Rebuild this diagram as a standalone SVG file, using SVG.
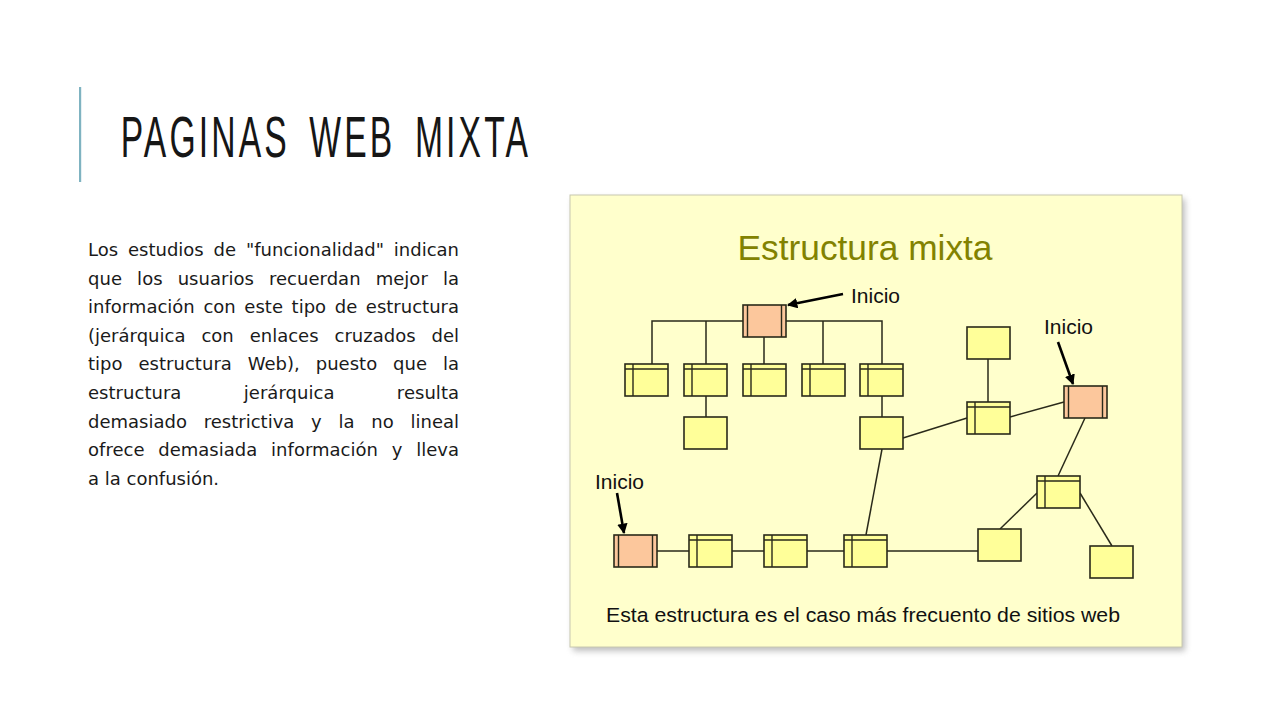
<svg xmlns="http://www.w3.org/2000/svg" width="1280" height="720" viewBox="0 0 1280 720">
<style>
.title{font-family:"Liberation Sans",Arial,sans-serif;font-size:58px;fill:#161616;word-spacing:12px}
.body{font-family:"DejaVu Sans","Noto Sans",sans-serif;font-size:18px;fill:#1a1a1a}
.dtitle{font-family:"Liberation Sans",Arial,sans-serif;font-size:35px;fill:#828200}
.lbl{font-family:"Liberation Sans",Arial,sans-serif;font-size:21px;fill:#111}
.foot{font-family:"Liberation Sans",Arial,sans-serif;font-size:20.5px;fill:#111}
.n{fill:#ffff99;stroke:#2a2a1a;stroke-width:1.6}
.o{fill:#fcc79c;stroke:#2a2a1a;stroke-width:1.6}
.d{stroke:#2a2a1a;stroke-width:1.4;fill:none}
.c{stroke:#2a2a1a;stroke-width:1.5;fill:none}
.a{stroke:#000;stroke-width:2.6;fill:none}
</style>
<defs>
<marker id="ah" viewBox="0 0 10 10" refX="9" refY="5" markerWidth="4" markerHeight="4" orient="auto" markerUnits="strokeWidth">
<path d="M0,0 L10,5 L0,10 z" fill="#000"/>
</marker>
<filter id="sh" x="-5%" y="-5%" width="112%" height="115%">
<feGaussianBlur stdDeviation="3"/>
</filter>
<symbol id="pg" overflow="visible">
<rect class="n" x="0" y="0" width="43" height="32"/>
<path class="d" d="M0,5 H43 M8,0 V32"/>
</symbol>
<symbol id="pl" overflow="visible">
<rect class="n" x="0" y="0" width="43" height="32"/>
</symbol>
<symbol id="po" overflow="visible">
<rect class="o" x="0" y="0" width="43" height="32"/>
<path class="d" d="M4.5,0 V32 M38.5,0 V32"/>
</symbol>
</defs>
<rect width="1280" height="720" fill="#ffffff"/>

<g id="header">
<rect x="79" y="87" width="2.2" height="95" fill="#7fb3c1"/>
<text class="title" transform="translate(120.7,156.7) scale(0.58,1)" x="0" y="0" textLength="702" lengthAdjust="spacing">PAGINAS WEB MIXTA</text>
</g>

<g id="paragraph" class="body">
<text x="88" y="256" word-spacing="4.1" textLength="371" lengthAdjust="spacing">Los estudios de "funcionalidad" indican</text>
<text x="88" y="284.6" word-spacing="9.4" textLength="371" lengthAdjust="spacing">que los usuarios recuerdan mejor la</text>
<text x="88" y="313.2" word-spacing="2.9" textLength="371" lengthAdjust="spacing">información con este tipo de estructura</text>
<text x="88" y="341.8" word-spacing="10.2" textLength="371" lengthAdjust="spacing">(jerárquica con enlaces cruzados del</text>
<text x="88" y="370.4" word-spacing="10.1" textLength="371" lengthAdjust="spacing">tipo estructura Web), puesto que la</text>
<text x="88" y="399" word-spacing="56.7" textLength="371" lengthAdjust="spacing">estructura jerárquica resulta</text>
<text x="88" y="427.6" word-spacing="11" textLength="371" lengthAdjust="spacing">demasiado restrictiva y la no lineal</text>
<text x="88" y="456.2" word-spacing="8" textLength="371" lengthAdjust="spacing">ofrece demasiada información y lleva</text>
<text x="88" y="484.8">a la confusión.</text>
</g>

<g id="panel">
<rect x="573" y="199" width="612" height="452" fill="#888" opacity="0.55" filter="url(#sh)"/>
<rect x="570" y="195" width="612" height="452" fill="#ffffcc" stroke="#c8c8b0" stroke-width="1"/>
<text class="dtitle" x="737.5" y="260" textLength="255" lengthAdjust="spacingAndGlyphs">Estructura mixta</text>
<text class="foot" x="606" y="622.3" textLength="514" lengthAdjust="spacingAndGlyphs">Esta estructura es el caso más frecuento de sitios web</text>
</g>

<g id="connectors">
<path class="c" d="M652,364 V321 H743 M786,321 H882 V364 M706,321 V364 M823,321 V364 M764,337 V364"/>
<path class="c" d="M706,396 V417 M882,396 V417"/>
<path class="c" d="M988,359 V402"/>
<path class="c" d="M903,438 L967,418"/>
<path class="c" d="M1010,417 L1064,402"/>
<path class="c" d="M1085,418 L1058,476"/>
<path class="c" d="M1000,529 L1037,493"/>
<path class="c" d="M1080,493 L1112,546"/>
<path class="c" d="M882,449 L866,535"/>
<path class="c" d="M657,551 H689 M732,551 H764 M807,551 H844 M887,551 H978"/>
<path class="a" d="M843,294 L788,305" marker-end="url(#ah)"/>
<path class="a" d="M1058,342 L1073,384" marker-end="url(#ah)"/>
<path class="a" d="M617,493 L624,533" marker-end="url(#ah)"/>
</g>

<g id="labels">
<text class="lbl" x="851" y="302.5">Inicio</text>
<text class="lbl" x="1044" y="334">Inicio</text>
<text class="lbl" x="595" y="489">Inicio</text>
</g>

<g id="node-root"><use href="#po" x="743" y="305"/></g>
<g id="node-c1"><use href="#pg" x="625" y="364"/></g>
<g id="node-c2"><use href="#pg" x="684" y="364"/></g>
<g id="node-c3"><use href="#pg" x="743" y="364"/></g>
<g id="node-c4"><use href="#pg" x="802" y="364"/></g>
<g id="node-c5"><use href="#pg" x="860" y="364"/></g>
<g id="node-g2"><use href="#pl" x="684" y="417"/></g>
<g id="node-g5"><use href="#pl" x="860" y="417"/></g>
<g id="node-rtop"><use href="#pl" x="967" y="327"/></g>
<g id="node-rmid"><use href="#pg" x="967" y="402"/></g>
<g id="node-rstart"><use href="#po" x="1064" y="386"/></g>
<g id="node-rm2"><use href="#pg" x="1037" y="476"/></g>
<g id="node-b5"><use href="#pl" x="978" y="529"/></g>
<g id="node-b6"><use href="#pl" x="1090" y="546"/></g>
<g id="node-lstart"><use href="#po" x="614" y="535"/></g>
<g id="node-b2"><use href="#pg" x="689" y="535"/></g>
<g id="node-b3"><use href="#pg" x="764" y="535"/></g>
<g id="node-b4"><use href="#pg" x="844" y="535"/></g>
</svg>
